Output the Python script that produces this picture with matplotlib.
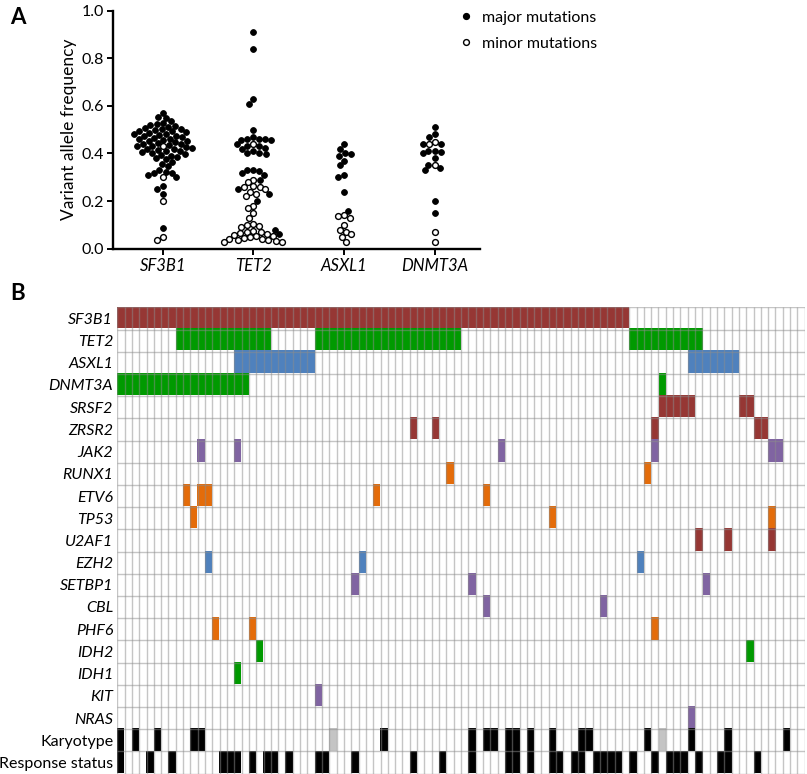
import numpy as np
import matplotlib
matplotlib.use('Agg')
import matplotlib.pyplot as plt
from matplotlib.colors import to_rgb
from matplotlib.lines import Line2D

plt.rcParams['font.family'] = ['Lato', 'DejaVu Sans']

# ---------------- Panel A data (variant allele frequency) ----------------
categories = ['SF3B1', 'TET2', 'ASXL1', 'DNMT3A']

sf3b1_major = [0.572, 0.555, 0.550, 0.535, 0.528, 0.524, 0.520, 0.516, 0.512,
               0.508, 0.505, 0.502, 0.499, 0.496, 0.493, 0.490, 0.487, 0.484,
               0.481, 0.478, 0.475, 0.472, 0.469, 0.466, 0.463, 0.460, 0.457,
               0.454, 0.451, 0.448, 0.445, 0.442, 0.439, 0.436, 0.433, 0.430,
               0.427, 0.424, 0.421, 0.418, 0.415, 0.412, 0.409, 0.405, 0.402,
               0.398, 0.394, 0.390, 0.385, 0.380, 0.375, 0.365, 0.355, 0.348,
               0.332, 0.322, 0.320, 0.316, 0.310, 0.300, 0.262, 0.250, 0.230,
               0.088]
sf3b1_minor = [0.430, 0.300, 0.200, 0.048, 0.038]

tet2_major = [0.910, 0.840, 0.630, 0.610, 0.500, 0.470, 0.462, 0.460, 0.458,
              0.456, 0.460, 0.440, 0.433, 0.430, 0.424, 0.420, 0.410, 0.402,
              0.400, 0.398, 0.332, 0.330, 0.328, 0.318, 0.310, 0.290, 0.250,
              0.230, 0.200, 0.080, 0.060]
tet2_minor = [0.440, 0.290, 0.280, 0.262, 0.260, 0.258, 0.250, 0.240, 0.230,
              0.220, 0.180, 0.170, 0.150, 0.130, 0.102, 0.100, 0.095, 0.090,
              0.075, 0.072, 0.070, 0.065, 0.062, 0.058, 0.055, 0.052, 0.048,
              0.045, 0.042, 0.040, 0.038, 0.035, 0.032, 0.030, 0.028]

asxl1_major = [0.440, 0.420, 0.402, 0.398, 0.390, 0.370, 0.350, 0.310, 0.300,
               0.240, 0.160]
asxl1_minor = [0.142, 0.138, 0.130, 0.100, 0.080, 0.070, 0.060, 0.050, 0.030]

dnmt3a_major = [0.510, 0.480, 0.470, 0.442, 0.438, 0.412, 0.410, 0.408, 0.400,
                0.380, 0.350, 0.340, 0.330, 0.200, 0.150]
dnmt3a_minor = [0.450, 0.440, 0.352, 0.070, 0.030]

major_by_cat = [sf3b1_major, tet2_major, asxl1_major, dnmt3a_major]
minor_by_cat = [sf3b1_minor, tet2_minor, asxl1_minor, dnmt3a_minor]

# ---------------- Panel B data (patient x gene matrix) ----------------
n_patients = 94
genes = ['SF3B1', 'TET2', 'ASXL1', 'DNMT3A', 'SRSF2', 'ZRSR2', 'JAK2', 'RUNX1',
         'ETV6', 'TP53', 'U2AF1', 'EZH2', 'SETBP1', 'CBL', 'PHF6', 'IDH2',
         'IDH1', 'KIT', 'NRAS']
gene_patients = {
    'SF3B1': list(range(0, 70)),
    'TET2': list(range(8, 21)) + list(range(27, 47)) + list(range(70, 80)),
    'ASXL1': list(range(16, 27)) + list(range(78, 85)),
    'DNMT3A': list(range(0, 18)) + [74],
    'SRSF2': [74, 75, 76, 77, 78, 85, 86],
    'ZRSR2': [40, 43, 73, 87, 88],
    'JAK2': [11, 16, 52, 73, 89, 90],
    'RUNX1': [45, 72],
    'ETV6': [9, 11, 12, 35, 50],
    'TP53': [10, 59, 89],
    'U2AF1': [79, 83, 89],
    'EZH2': [12, 33, 71],
    'SETBP1': [32, 48, 80],
    'CBL': [50, 66],
    'PHF6': [13, 18, 73],
    'IDH2': [19, 86],
    'IDH1': [16],
    'KIT': [27],
    'NRAS': [78],
}
karyotype_abnormal = [0, 2, 5, 10, 11, 36, 48, 50, 51, 53, 54, 56, 59, 63, 64,
                      72, 78, 83, 91]
karyotype_na = [29, 74]
response = [0, 4, 7, 14, 15, 16, 18, 20, 21, 23, 27, 28, 32, 40, 44, 48, 53,
            54, 56, 59, 60, 62, 63, 65, 66, 67, 68, 70, 73, 75, 76, 77, 79,
            82, 83, 87]
extra_rows = ['Karyotype', 'Response status']

# ---------------- styles ----------------
MAROON = '#963734'
GREEN = '#009A00'
BLUE = '#4F81BD'
PURPLE = '#8064A2'
ORANGE = '#E46C0A'
gene_colors = {
    'SF3B1': MAROON, 'TET2': GREEN, 'ASXL1': BLUE, 'DNMT3A': GREEN,
    'SRSF2': MAROON, 'ZRSR2': MAROON, 'JAK2': PURPLE, 'RUNX1': ORANGE,
    'ETV6': ORANGE, 'TP53': ORANGE, 'U2AF1': MAROON, 'EZH2': BLUE,
    'SETBP1': PURPLE, 'CBL': PURPLE, 'PHF6': ORANGE, 'IDH2': GREEN,
    'IDH1': GREEN, 'KIT': PURPLE, 'NRAS': PURPLE,
}

W, H = 807, 774
fig = plt.figure(figsize=(W / 100, H / 100), dpi=100)

# ---------------- Panel A ----------------
axA_left, axA_right, axA_top, axA_bot = 113.3, 480.0, 10.7, 248.7
axA = fig.add_axes([axA_left / W, 1 - axA_bot / H,
                    (axA_right - axA_left) / W, (axA_bot - axA_top) / H])
xlim = (0.455, 4.5)
ypx = axA_bot - axA_top
xpx = (axA_right - axA_left) / (xlim[1] - xlim[0])
dmin = 6.2  # minimum pixel distance between dot centres


def swarm_offsets(values, order):
    """Continuous beeswarm in pixel space; returns x offsets in data units."""
    vals = np.asarray(values, float)
    px, py = [], []
    offs = np.zeros(len(vals))
    for i in order:
        y = vals[i] * ypx
        intervals = []
        for xx, yy in zip(px, py):
            dy = abs(y - yy)
            if dy < dmin:
                h = np.sqrt(dmin ** 2 - dy ** 2)
                intervals.append((xx - h, xx + h))
        cands = [0.0] + [e for iv in intervals for e in iv]
        cands.sort(key=lambda c: (abs(c), c))
        chosen = 0.0
        for c in cands:
            if all(not (lo + 1e-6 < c < hi - 1e-6) for lo, hi in intervals):
                chosen = c
                break
        px.append(chosen)
        py.append(y)
        offs[i] = chosen / xpx
    return offs


ms = 4.2
for ci, cat in enumerate(categories):
    maj = major_by_cat[ci]
    mnr = minor_by_cat[ci]
    allv = list(maj) + list(mnr)
    nm = len(maj)
    # minor mutations are placed first, then major ones (both high to low)
    order = [nm + j for j in np.argsort(-np.asarray(mnr))] + \
            list(np.argsort(-np.asarray(maj)))
    offs = swarm_offsets(allv, order)
    xs = ci + 1 + offs
    axA.plot(xs[:nm], allv[:nm], 'o', ms=ms, mfc='black', mec='black',
             mew=0.6, ls='none', clip_on=False)
    axA.plot(xs[nm:], allv[nm:], 'o', ms=ms, mfc='white', mec='black',
             mew=1.0, ls='none', clip_on=False)

axA.set_xlim(*xlim)
axA.set_ylim(0, 1.0)
axA.set_yticks(np.arange(0, 1.01, 0.2))
axA.set_yticklabels([f'{v:.1f}' for v in np.arange(0, 1.01, 0.2)], fontsize=11.5)
axA.set_xticks(range(1, len(categories) + 1))
axA.set_xticklabels(categories, fontsize=12, style='italic')
axA.spines['top'].set_visible(False)
axA.spines['right'].set_visible(False)
for s in ('left', 'bottom'):
    axA.spines[s].set_linewidth(1.7)
axA.tick_params(direction='out', length=4, width=1.4, pad=3)
axA.set_ylabel('Variant allele frequency', fontsize=12.5, labelpad=3)

handles = [Line2D([], [], marker='o', ls='none', ms=ms, mfc='black', mec='black'),
           Line2D([], [], marker='o', ls='none', ms=ms, mfc='white', mec='black',
                  mew=1.0)]
fig.legend(handles, ['major mutations', 'minor mutations'],
           loc='upper left', bbox_to_anchor=(453 / W, 1 - 4 / H),
           frameon=False, fontsize=11.5, handlelength=0.8, handletextpad=0.6,
           labelspacing=0.75, borderaxespad=0)

fig.text(10 / W, 1 - 18 / H, 'A', fontsize=16, fontweight='bold', va='center')
fig.text(10 / W, 1 - 293 / H, 'B', fontsize=16, fontweight='bold', va='center')

# ---------------- Panel B ----------------
gx0, gx1, gy0, gy1 = 117.3, 804.7, 307.3, 773.5
axB = fig.add_axes([gx0 / W, 1 - gy1 / H, (gx1 - gx0) / W, (gy1 - gy0) / H])
row_labels = genes + extra_rows
nrows = len(row_labels)
img = np.ones((nrows, n_patients, 3))
for r, g in enumerate(genes):
    img[r, gene_patients[g]] = to_rgb(gene_colors[g])
img[len(genes), karyotype_abnormal] = (0, 0, 0)
img[len(genes), karyotype_na] = to_rgb('#C4C4C4')
img[len(genes) + 1, response] = (0, 0, 0)
axB.imshow(img, aspect='auto', interpolation='nearest',
           extent=(0, n_patients, nrows, 0))
axB.vlines(np.arange(n_patients + 1), 0, nrows, color='#8c8c8c', alpha=0.5,
           lw=1.0)
axB.hlines(np.arange(nrows + 1), 0, n_patients, color='#8c8c8c', alpha=0.5,
           lw=1.0)
axB.set_xlim(0, n_patients)
axB.set_ylim(nrows, 0)
axB.set_xticks([])
axB.set_yticks(np.arange(nrows) + 0.5)
axB.set_yticklabels(row_labels, fontsize=11.5)
for lab in axB.get_yticklabels():
    if lab.get_text() in genes:
        lab.set_style('italic')
axB.tick_params(axis='y', length=0, pad=3)
for s in axB.spines.values():
    s.set_visible(False)

fig.savefig('out.png', dpi=100)
